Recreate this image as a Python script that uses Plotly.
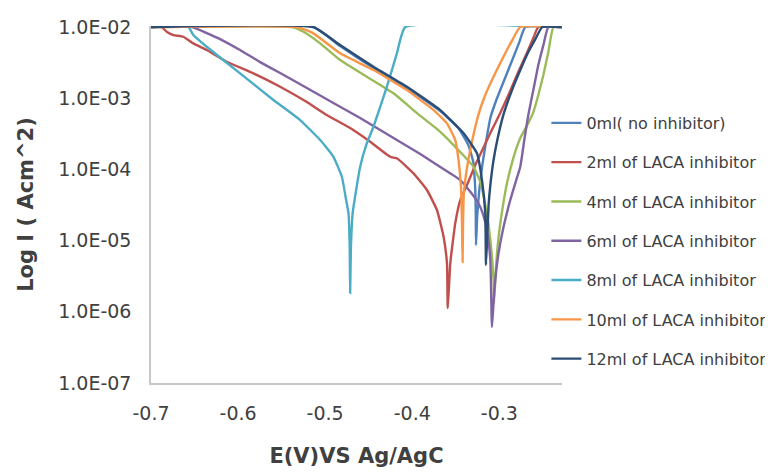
import plotly.graph_objects as go

# Potential E (V vs Ag/AgCl) and log10 of current density (A/cm^2)
names = ["0ml( no inhibitor)", "2ml of LACA inhibitor", "4ml of LACA inhibitor",
         "6ml of LACA inhibitor", "8ml of LACA inhibitor", "10ml of LACA inhibitor",
         "12ml of LACA inhibitor"]
colors = ["#4F81BD", "#C0504D", "#9BBB59", "#8064A2", "#4BACC6", "#F79646", "#2C4D75"]

e_0ml = [-0.700, -0.5135, -0.4828, -0.4445, -0.4061, -0.3678, -0.3471, -0.3356, -0.3299, -0.3276,
         -0.3270, -0.3268, -0.3253, -0.3230, -0.3195, -0.3149, -0.3103, -0.3034, -0.2943, -0.2851,
         -0.2770, -0.2701, -0.2282]
logi_0ml = [-2.0, -2.0, -2.267, -2.576, -2.857, -3.180, -3.419, -3.657, -3.896, -4.289,
            -4.640, -5.062, -4.640, -4.289, -3.938, -3.587, -3.278, -3.025, -2.744, -2.463,
            -2.211, -2.0, -2.0]

e_2ml = [-0.700, -0.6877, -0.6820, -0.6744, -0.6629, -0.6514, -0.6360, -0.6130, -0.5824, -0.5517,
         -0.5210, -0.4981, -0.4713, -0.4483, -0.4253, -0.4172, -0.3985, -0.3831, -0.3716, -0.3640,
         -0.3601, -0.3592, -0.3563, -0.3506, -0.3448, -0.3371, -0.3276, -0.3184, -0.3103, -0.2989,
         -0.2885, -0.2782, -0.2678, -0.2609, -0.2552, -0.2282]
logi_2ml = [-2.0, -2.0, -2.066, -2.112, -2.136, -2.229, -2.323, -2.487, -2.650, -2.838,
            -3.053, -3.236, -3.419, -3.611, -3.822, -3.847, -4.055, -4.289, -4.570, -4.945,
            -5.319, -5.947, -5.319, -4.757, -4.430, -4.219, -3.938, -3.699, -3.489, -3.208,
            -2.927, -2.632, -2.351, -2.154, -2.0, -2.0]

e_4ml = [-0.700, -0.5383, -0.5249, -0.5057, -0.4828, -0.4521, -0.4215, -0.3946, -0.3678, -0.3448,
         -0.3296, -0.3218, -0.3172, -0.3127, -0.3086, -0.3066, -0.3060, -0.3040, -0.3012, -0.2966,
         -0.2912, -0.2839, -0.2759, -0.2678, -0.2609, -0.2552, -0.2494, -0.2437, -0.2379, -0.2282]
logi_4ml = [-2.0, -2.0, -2.066, -2.229, -2.463, -2.698, -2.931, -3.208, -3.471, -3.756,
            -3.962, -4.177, -4.430, -4.753, -5.202, -5.553, -5.876, -5.413, -4.992, -4.570,
            -4.195, -3.840, -3.559, -3.376, -3.194, -2.955, -2.674, -2.351, -2.0, -2.0]

e_6ml = [-0.700, -0.6529, -0.6360, -0.6207, -0.5977, -0.5747, -0.5517, -0.5210, -0.4905, -0.4598,
         -0.4368, -0.4138, -0.3908, -0.3678, -0.3448, -0.3333, -0.3241, -0.3184, -0.3138, -0.3103,
         -0.3084, -0.3057, -0.3012, -0.2954, -0.2874, -0.2816, -0.2759, -0.2713, -0.2667, -0.2609,
         -0.2552, -0.2494, -0.2437, -0.2282]
logi_6ml = [-2.0, -2.0, -2.084, -2.169, -2.323, -2.492, -2.646, -2.857, -3.067, -3.278,
            -3.447, -3.615, -3.784, -3.966, -4.149, -4.313, -4.472, -4.640, -4.879, -5.272,
            -6.213, -5.694, -5.202, -4.823, -4.430, -4.191, -3.962, -3.587, -3.236, -2.885,
            -2.534, -2.253, -2.0, -2.0]

e_8ml = [-0.700, -0.6571, -0.6514, -0.6360, -0.5977, -0.5594, -0.5287, -0.5057, -0.4905, -0.4808,
         -0.4759, -0.4732, -0.4718, -0.4713, -0.4704, -0.4684, -0.4644, -0.4598, -0.4529, -0.4445,
         -0.4291, -0.4176, -0.4080, -0.2282]
logi_8ml = [-2.0, -2.0, -2.112, -2.277, -2.650, -3.025, -3.306, -3.587, -3.822, -4.103,
            -4.430, -4.617, -5.086, -5.736, -5.086, -4.612, -4.289, -3.962, -3.657, -3.400,
            -2.838, -2.369, -2.0, -2.0]

e_10ml = [-0.700, -0.5325, -0.5135, -0.4828, -0.4445, -0.4061, -0.3755, -0.3601, -0.3506, -0.3468,
          -0.3440, -0.3429, -0.3422, -0.3416, -0.3408, -0.3391, -0.3356, -0.3310, -0.3241, -0.3161,
          -0.3057, -0.2954, -0.2851, -0.2759, -0.2282]
logi_10ml = [-2.0, -2.0, -2.088, -2.369, -2.604, -2.885, -3.166, -3.353, -3.587, -3.868,
             -4.243, -4.711, -5.301, -4.711, -4.360, -4.149, -3.868, -3.587, -3.236, -2.955,
             -2.674, -2.421, -2.183, -2.0, -2.0]

e_12ml = [-0.700, -0.5135, -0.4828, -0.4445, -0.4061, -0.3678, -0.3410, -0.3256, -0.3199, -0.3161,
          -0.3153, -0.3138, -0.3123, -0.3103, -0.3066, -0.3023, -0.2954, -0.2854, -0.2759, -0.2667,
          -0.2586, -0.2506, -0.2282]
logi_12ml = [-2.0, -2.0, -2.253, -2.558, -2.838, -3.166, -3.493, -3.774, -4.149, -4.617,
             -5.343, -4.921, -4.500, -4.219, -3.868, -3.587, -3.236, -2.885, -2.604, -2.351,
             -2.169, -2.0, -2.0]

x_ticks = [-0.7, -0.6, -0.5, -0.4, -0.3]
x_tick_text = ["-0.7", "-0.6", "-0.5", "-0.4", "-0.3"]
y_ticks = [1e-7, 1e-6, 1e-5, 1e-4, 1e-3, 1e-2]
y_tick_text = ["1.0E-07", "1.0E-06", "1.0E-05", "1.0E-04", "1.0E-03", "1.0E-02"]

series_e = [e_0ml, e_2ml, e_4ml, e_6ml, e_8ml, e_10ml, e_12ml]
series_logi = [logi_0ml, logi_2ml, logi_4ml, logi_6ml, logi_8ml, logi_10ml, logi_12ml]

fig = go.Figure()
for i, (nm, col, ev, lv) in enumerate(zip(names, colors, series_e, series_logi)):
    fig.add_trace(go.Scatter(
        x=ev, y=[10 ** v for v in lv], mode="lines", name=nm,
        legendgroup=f"g{i}",
        line=dict(color=col, width=2.4, shape="spline", smoothing=0.4),
    ))

font_family = "'DejaVu Sans', sans-serif"
fig.update_layout(
    width=765, height=465,
    margin=dict(l=143, r=211, t=18, b=90, autoexpand=False),
    paper_bgcolor="white", plot_bgcolor="white",
    font=dict(family=font_family, color="#404040"),
    showlegend=True,
    legend=dict(
        x=0.962, xanchor="left", y=0.776, yanchor="top",
        font=dict(size=16, color="#404040", family=font_family),
        tracegroupgap=15.5, bgcolor="rgba(0,0,0,0)",
        itemwidth=30,
    ),
    xaxis=dict(
        range=[-0.7, -0.228], tickvals=x_ticks, ticktext=x_tick_text,
        showgrid=False, zeroline=False, showline=True, linecolor="#C8C8C8", linewidth=1.5,
        ticks="", tickfont=dict(size=19, color="#404040"), ticklabelstandoff=12,
        automargin=False,
        title=dict(text="<b>E(V)VS Ag/AgC</b>", font=dict(size=21, color="#404040"), standoff=26),
    ),
    yaxis=dict(
        type="log", range=[-7, -1.985], tickvals=y_ticks, ticktext=y_tick_text,
        showgrid=False, zeroline=False, showline=True, linecolor="#C8C8C8", linewidth=1.5,
        ticks="", tickfont=dict(size=19, color="#404040"), ticklabelstandoff=14,
        automargin=False,
        title=dict(text="<b>Log I ( Acm^2)</b>", font=dict(size=21, color="#404040"), standoff=19),
    ),
)

fig.write_html("out.html")
